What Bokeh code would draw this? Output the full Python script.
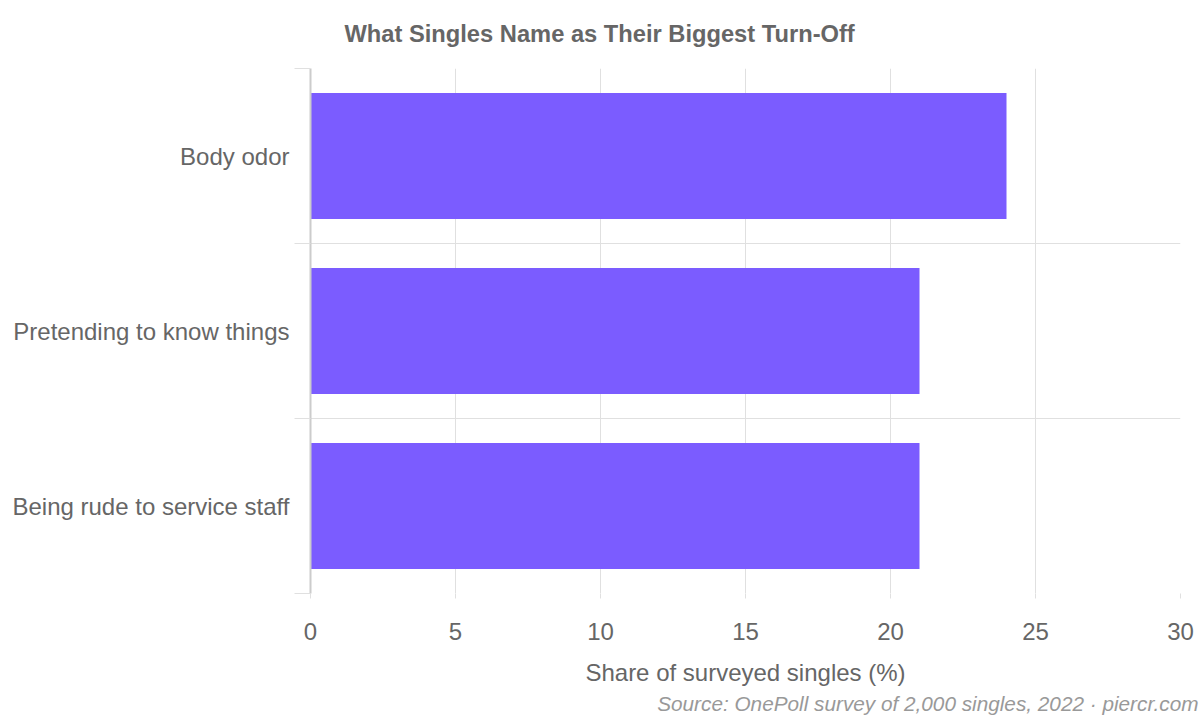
from bokeh.plotting import figure
from bokeh.models import Range1d, FixedTicker, Title, ColumnDataSource
from bokeh.embed import file_html
from bokeh.resources import INLINE

# ---- data ----
categories = ["Body odor", "Pretending to know things", "Being rude to service staff"]
values = [24, 21, 21]
x_ticks = [0, 5, 10, 15, 20, 25, 30]
x_max = 30

title_text = "What Singles Name as Their Biggest Turn-Off"
x_label = "Share of surveyed singles (%)"
source_text = "Source: OnePoll survey of 2,000 singles, 2022 \u00b7 piercr.com"

FONT = "Liberation Sans"
BAR = "#7b5cff"
TXT = "#666666"
GRID = "#e0e0e0"

W, H = 1200, 720
BL, BR, BT, BB = 310, 20, 68, 127

n = len(categories)
# first category at top
ypos = [n - i - 0.5 for i in range(n)]
src = ColumnDataSource(dict(y=ypos, v=values, cat=categories))

p = figure(width=W, height=H, x_range=Range1d(0, x_max), y_range=Range1d(0, n),
           output_backend="svg", toolbar_location=None,
           min_border_left=BL, min_border_right=BR, min_border_top=BT, min_border_bottom=BB)
p.outline_line_color = None
p.background_fill_color = "white"
p.border_fill_color = "white"

p.hbar(y="y", left=0, right="v", height=0.72, source=src, fill_color=BAR, line_color=None)

# x axis
xa = p.xaxis[0]
xa.ticker = FixedTicker(ticks=x_ticks)
xa.axis_line_color = None
xa.major_tick_line_color = GRID
xa.major_tick_out = 5
xa.major_tick_in = 0
xa.minor_tick_line_color = None
xa.major_label_text_font = FONT
xa.major_label_text_font_size = "24px"
xa.major_label_text_color = TXT
xa.major_label_standoff = 24
xa.axis_label = x_label
xa.axis_label_text_font = FONT
xa.axis_label_text_font_size = "24px"
xa.axis_label_text_font_style = "normal"
xa.axis_label_text_color = TXT
xa.axis_label_standoff = 16

# y axis: labels at category centres, small ticks at category boundaries
ya = p.yaxis[0]
ya.ticker = FixedTicker(ticks=ypos, minor_ticks=list(range(n + 1)))
ya.major_label_overrides = {y: c for y, c in zip(ypos, categories)}
ya.axis_line_color = "#cccccc"
ya.axis_line_width = 2
ya.major_tick_line_color = None
ya.major_tick_out = 0
ya.major_tick_in = 0
ya.minor_tick_line_color = GRID
ya.minor_tick_out = 16
ya.minor_tick_in = 0
ya.major_label_text_font = FONT
ya.major_label_text_font_size = "24px"
ya.major_label_text_color = TXT
ya.major_label_standoff = 5

p.xgrid.grid_line_color = GRID
p.ygrid.grid_line_color = GRID
p.ygrid.ticker = FixedTicker(ticks=list(range(n + 1)))

# chart title
p.title.text = title_text
p.title.align = "left"
p.title.offset = 34
p.title.vertical_align = "top"
p.title.standoff = 39
p.title.text_font = FONT
p.title.text_font_size = "23.7px"
p.title.text_font_style = "bold"
p.title.text_color = TXT

# source note
p.add_layout(Title(text=source_text, align="right", offset=-18, vertical_align="bottom", standoff=2,
                   text_font=FONT, text_font_size="20.75px", text_font_style="italic",
                   text_color="#999999"), "below")

open("out.html", "w").write(file_html(p, INLINE))
